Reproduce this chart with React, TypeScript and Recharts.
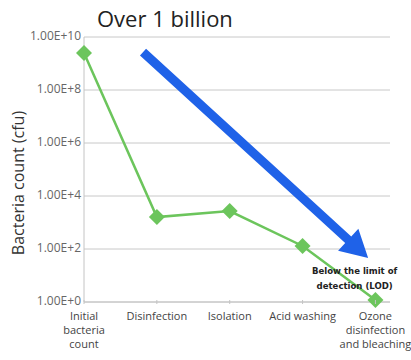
import React from 'react';
import { LineChart, Line, XAxis, YAxis, CartesianGrid, ReferenceLine } from 'recharts';

const steps = ['Initial\nbacteria\ncount', 'Disinfection', 'Isolation', 'Acid washing', 'Ozone\ndisinfection\nand bleaching'];
const bacteria = [2.5e9, 1.6e3, 2.7e3, 1.3e2, 1.2];
const yTicks = [1, 1e2, 1e4, 1e6, 1e8, 1e10];
const yTickLabels = ['1.00E+0', '1.00E+2', '1.00E+4', '1.00E+6', '1.00E+8', '1.00E+10'];
// big blue arrow: from just after the first step down to the last step
const arrowFrom = { x: 0.81, y: 2.7e9 };
const arrowTo = { x: 3.9, y: 46 };

const data = steps.map((s, i) => ({ idx: i, step: s, count: bacteria[i] }));

const tickFont = '"Open Sans", "DejaVu Sans", sans-serif';

const Diamond = (props: any) => {
    const { cx, cy } = props;
    if (cx == null || cy == null) return null;
    const r = 8;
    return (
        <polygon
            points={`${cx},${cy - r} ${cx + r},${cy} ${cx},${cy + r} ${cx - r},${cy}`}
            fill="#6cc55c"
        />
    );
};

const StepTick = (props: any) => {
    const { x, y, payload } = props;
    const lines = steps[payload.value].split('\n');
    return (
        <g>
            <line x1={x} y1={y - 4} x2={x} y2={y} stroke="#c4c4c4" />
            <text x={x} y={y + 16} textAnchor="middle" fill="#444" fontSize={11} fontFamily={tickFont}>
                {lines.map((l, i) => (
                    <tspan key={i} x={x} dy={i === 0 ? 0 : 14}>{l}</tspan>
                ))}
            </text>
        </g>
    );
};

const CountTick = (props: any) => {
    const { x, y, payload } = props;
    const i = yTicks.indexOf(payload.value);
    return (
        <text x={x - 1} y={y} dy={3} textAnchor="end" fill="#666" fontSize={12} fontFamily={tickFont}>
            {yTickLabels[i]}
        </text>
    );
};

const Arrow = (props: any) => {
    const { x1, y1, x2, y2 } = props;
    if ([x1, y1, x2, y2].some(v => v == null)) return null;
    const dx = x2 - x1;
    const dy = y2 - y1;
    const len = Math.sqrt(dx * dx + dy * dy);
    const ux = dx / len;
    const uy = dy / len;
    const nx = -uy;
    const ny = ux;
    const headLen = 27;
    const headW = 15;
    const shaftW = 4.5;
    const bx = x2 - ux * headLen;
    const by = y2 - uy * headLen;
    const pts = [
        [x1 + nx * shaftW, y1 + ny * shaftW],
        [bx + nx * shaftW, by + ny * shaftW],
        [bx + nx * headW, by + ny * headW],
        [x2, y2],
        [bx - nx * headW, by - ny * headW],
        [bx - nx * shaftW, by - ny * shaftW],
        [x1 - nx * shaftW, y1 - ny * shaftW],
    ];
    return <polygon points={pts.map(p => p.join(',')).join(' ')} fill="#1f62e8" />;
};

export default function App() {
    return (
        <div style={{ position: 'absolute', left: 0, top: 0, width: 411, height: 360, background: '#fff' }}>
            <LineChart width={411} height={360} data={data} margin={{ top: 37, right: 21, bottom: 0, left: 0 }}>
                <CartesianGrid vertical={false} stroke="#c8c8c8" />
                <XAxis
                    dataKey="idx"
                    type="number"
                    domain={[0, 4.2]}
                    ticks={[0, 1, 2, 3, 4]}
                    interval={0}
                    height={58}
                    tickLine={false}
                    tickSize={0}
                    stroke="#c4c4c4"
                    tick={<StepTick />}
                />
                <YAxis
                    scale="log"
                    domain={[1, 1e10]}
                    ticks={yTicks}
                    interval={0}
                    width={84}
                    tickLine={false}
                    tickSize={0}
                    stroke="#c4c4c4"
                    tick={<CountTick />}
                />
                <ReferenceLine
                    segment={[arrowFrom, arrowTo]}
                    ifOverflow="visible"
                    shape={<Arrow />}
                />
                <Line
                    dataKey="count"
                    stroke="#6cc55c"
                    strokeWidth={2.5}
                    dot={<Diamond />}
                    activeDot={false}
                    isAnimationActive={false}
                />
            </LineChart>
            <div style={{ position: 'absolute', left: 97, top: 3, fontSize: 22, color: '#222', fontFamily: '"Open Sans", sans-serif', whiteSpace: 'nowrap' }}>
                Over 1 billion
            </div>
            <div style={{ position: 'absolute', left: 18, top: 183, transform: 'translate(-50%, -50%) rotate(-90deg)', fontSize: 16, color: '#333', fontFamily: '"Open Sans", sans-serif', whiteSpace: 'nowrap' }}>
                Bacteria count (cfu)
            </div>
            <div style={{ position: 'absolute', left: 312, top: 263, fontSize: 9.5, lineHeight: '15px', fontWeight: 700, color: '#222', fontFamily: '"DejaVu Sans Condensed", "Liberation Sans Narrow", sans-serif', textAlign: 'center', whiteSpace: 'nowrap' }}>
                Below the limit of<br />detection (LOD)
            </div>
        </div>
    );
}
